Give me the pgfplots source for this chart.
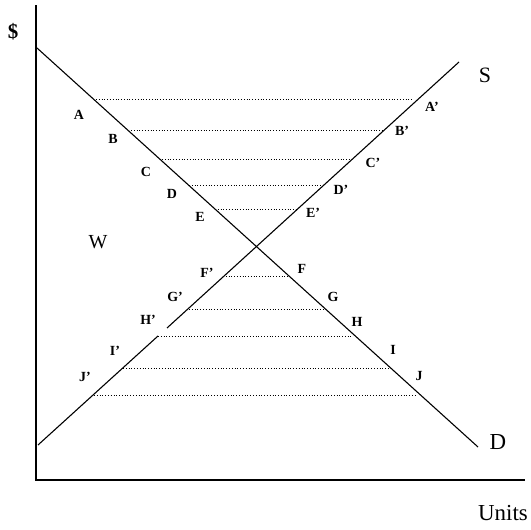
\documentclass[border=0pt]{standalone}
\usepackage{pgfplots}
\pgfplotsset{compat=1.18}
\usepackage{fontspec}
\setmainfont{Liberation Serif}
\begin{document}
\begin{tikzpicture}
\begin{axis}[
  name=ax,
  width=531bp, height=530bp, scale only axis,
  xmin=0, xmax=531, ymin=0, ymax=530,
  hide axis, clip=false,
  y dir=reverse,
]
% axes
\addplot[black, line width=2.6pt, line cap=rect] coordinates {(36,6) (36,480) (524,480)};
% demand
\addplot[black, line width=1.1pt] coordinates {(37,48) (478,447)};
% supply (with small gap as in original)
\addplot[black, line width=1.1pt] coordinates {(38,445) (158,336)};
\addplot[black, line width=1.1pt] coordinates {(167,328) (459,62)};
% dotted lines above equilibrium
\addplot[black, dotted, line width=0.8pt] coordinates {(96,99) (414,99)};
\addplot[black, dotted, line width=0.8pt] coordinates {(131,130) (384,130)};
\addplot[black, dotted, line width=0.8pt] coordinates {(162,159) (350,159)};
\addplot[black, dotted, line width=0.8pt] coordinates {(189,185) (321,185)};
\addplot[black, dotted, line width=0.8pt] coordinates {(215,209) (297,209)};
% dotted lines below equilibrium
\addplot[black, dotted, line width=0.8pt] coordinates {(223,276) (289,276)};
\addplot[black, dotted, line width=0.8pt] coordinates {(189,309) (324,309)};
\addplot[black, dotted, line width=0.8pt] coordinates {(158,336) (353,336)};
\addplot[black, dotted, line width=0.8pt] coordinates {(123,368) (389,368)};
\addplot[black, dotted, line width=0.8pt] coordinates {(94,395) (417,395)};
% labels
\begin{scope}[every node/.style={font=\fontsize{14}{16}\selectfont\bfseries, inner sep=0pt}]
\node at (axis cs:79,115) {A};
\node at (axis cs:113,139) {B};
\node at (axis cs:146,172) {C};
\node at (axis cs:172,194) {D};
\node at (axis cs:200,217) {E};
\node at (axis cs:432,107) {A'};
\node at (axis cs:402,131) {B'};
\node at (axis cs:373,163) {C'};
\node at (axis cs:341,190) {D'};
\node at (axis cs:313,213) {E'};
\node at (axis cs:207,273) {F'};
\node at (axis cs:175,297) {G'};
\node at (axis cs:148,320) {H'};
\node at (axis cs:115,351) {I'};
\node at (axis cs:85,377) {J'};
\node at (axis cs:302,269) {F};
\node at (axis cs:333,297) {G};
\node at (axis cs:357,322) {H};
\node at (axis cs:393,350) {I};
\node at (axis cs:419,376) {J};
\end{scope}
\node[font=\fontsize{20}{22}\selectfont, inner sep=0pt] at (axis cs:98,242) {W};
\node[font=\fontsize{21}{23}\selectfont\bfseries, inner sep=0pt] at (axis cs:13,32) {\$};
\node[font=\fontsize{22}{24}\selectfont, inner sep=0pt] at (axis cs:485,75) {S};
\node[font=\fontsize{23}{25}\selectfont, inner sep=0pt] at (axis cs:498,442) {D};
\node[font=\fontsize{23}{25}\selectfont, inner sep=0pt] at (axis cs:503,513) {Units};
\end{axis}
\pgfresetboundingbox
\path[use as bounding box] (ax.south west) rectangle (ax.north east);
\end{tikzpicture}
\end{document}
